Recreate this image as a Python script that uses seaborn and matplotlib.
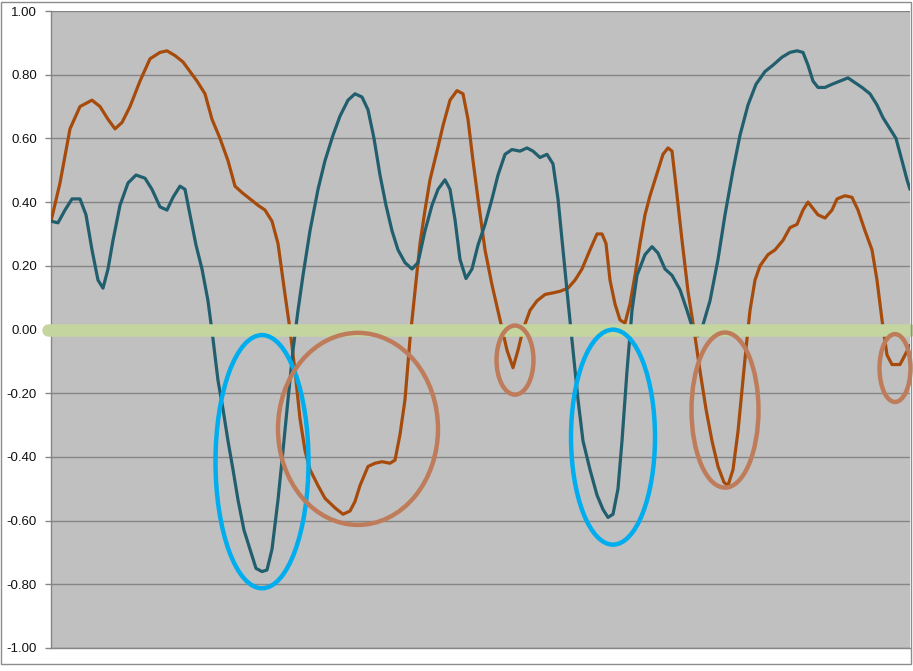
import numpy as np
import seaborn as sns
import matplotlib.pyplot as plt
from matplotlib.patches import Ellipse, Rectangle

# sample position (x) and value (y) for each series
orange_x = [0, 9, 19, 29, 41, 49, 57, 64, 71, 79, 89, 99, 109, 116, 124, 132, 139, 146, 154, 161,
            169, 177, 184, 191, 199, 207, 214, 221, 227, 234, 239, 244, 249, 254, 259, 267, 274, 284,
            292, 299, 304, 309, 317, 324, 331, 339, 344, 349, 354, 359, 364, 369, 374, 379, 386, 392,
            399, 406, 412, 417, 422, 427, 434, 441, 449, 456, 462, 467, 472, 479, 486, 494, 502, 509,
            517, 524, 531, 539, 546, 551, 555, 559, 564, 569, 574, 579, 584, 589, 594, 599, 606, 612,
            617, 621, 625, 631, 637, 643, 649, 655, 661, 667, 673, 677, 682, 687, 691, 695, 699, 704,
            709, 717, 724, 732, 739, 746, 752, 757, 762, 767, 774, 781, 786, 794, 801, 807, 814, 821,
            826, 831, 836, 841, 849, 854, 859]
orange_y = [0.34, 0.46, 0.63, 0.70, 0.72, 0.70, 0.66, 0.63, 0.65, 0.70, 0.78, 0.85, 0.87, 0.875, 0.86,
            0.84, 0.81, 0.78, 0.74, 0.66, 0.60, 0.53, 0.45, 0.43, 0.41, 0.39, 0.375, 0.34, 0.27, 0.11,
            0.0, -0.13, -0.28, -0.38, -0.44, -0.49, -0.53, -0.56, -0.58, -0.57, -0.54, -0.49, -0.43,
            -0.42, -0.415, -0.42, -0.41, -0.33, -0.22, -0.03, 0.12, 0.27, 0.375, 0.47, 0.56, 0.64,
            0.72, 0.75, 0.74, 0.66, 0.53, 0.41, 0.25, 0.14, 0.03, -0.065, -0.12, -0.065, 0.0, 0.06,
            0.09, 0.11, 0.115, 0.12, 0.13, 0.155, 0.19, 0.25, 0.30, 0.30, 0.27, 0.155, 0.08, 0.03,
            0.02, 0.08, 0.17, 0.27, 0.36, 0.42, 0.49, 0.55, 0.57, 0.56, 0.45, 0.28, 0.12, 0.0, -0.13,
            -0.25, -0.35, -0.43, -0.48, -0.49, -0.44, -0.32, -0.19, -0.06, 0.06, 0.155, 0.20, 0.235,
            0.25, 0.28, 0.32, 0.33, 0.375, 0.40, 0.38, 0.36, 0.35, 0.375, 0.41, 0.42, 0.415, 0.375,
            0.31, 0.25, 0.155, 0.03, -0.08, -0.11, -0.11, -0.08, -0.05]

teal_x = [0, 7, 14, 21, 29, 35, 41, 47, 52, 57, 62, 69, 77, 85, 94, 101, 109, 116, 122, 129, 134,
          139, 145, 151, 157, 162, 167, 172, 177, 182, 187, 193, 199, 205, 211, 216, 221, 227, 232,
          237, 242, 247, 252, 259, 267, 274, 282, 289, 297, 304, 311, 317, 323, 329, 335, 341, 347,
          354, 361, 367, 374, 381, 387, 394, 399, 404, 409, 415, 421, 427, 434, 441, 447, 454, 461,
          469, 476, 482, 489, 496, 502, 507, 512, 517, 522, 527, 532, 539, 546, 552, 557, 562, 567,
          571, 576, 581, 586, 594, 601, 607, 614, 621, 629, 636, 642, 647, 652, 659, 667, 674, 682,
          689, 697, 705, 714, 722, 731, 739, 746, 752, 757, 762, 767, 774, 781, 789, 797, 804, 811,
          819, 826, 832, 839, 845, 851, 856, 859]
teal_y = [0.34, 0.335, 0.375, 0.41, 0.41, 0.36, 0.25, 0.155, 0.13, 0.19, 0.28, 0.39, 0.46, 0.485,
          0.475, 0.44, 0.385, 0.375, 0.415, 0.45, 0.44, 0.36, 0.265, 0.19, 0.09, -0.03, -0.16, -0.25,
          -0.35, -0.44, -0.535, -0.63, -0.69, -0.75, -0.76, -0.755, -0.69, -0.535, -0.38, -0.22,
          -0.065, 0.06, 0.17, 0.31, 0.44, 0.53, 0.61, 0.67, 0.72, 0.74, 0.73, 0.69, 0.60, 0.485,
          0.39, 0.31, 0.25, 0.21, 0.19, 0.21, 0.31, 0.39, 0.44, 0.47, 0.44, 0.345, 0.22, 0.16, 0.19,
          0.265, 0.33, 0.41, 0.485, 0.55, 0.565, 0.56, 0.57, 0.56, 0.54, 0.55, 0.52, 0.41, 0.25,
          0.09, -0.065, -0.22, -0.35, -0.44, -0.52, -0.565, -0.59, -0.58, -0.50, -0.35, -0.13, 0.06,
          0.17, 0.235, 0.26, 0.24, 0.19, 0.17, 0.125, 0.06, 0.0, -0.02, 0.015, 0.09, 0.22, 0.36,
          0.50, 0.61, 0.705, 0.77, 0.81, 0.83, 0.855, 0.87, 0.875, 0.87, 0.83, 0.78, 0.76, 0.76,
          0.77, 0.78, 0.79, 0.775, 0.76, 0.74, 0.705, 0.665, 0.63, 0.60, 0.53, 0.47, 0.44]

# highlight ellipses: centre x, centre y, width (samples), height (value)
ell_x = [211, 307, 464, 562, 674, 844]
ell_y = [-0.415, -0.312, -0.096, -0.338, -0.253, -0.121]
ell_w = [93, 160, 37, 84, 67, 31]
ell_h = [0.795, 0.603, 0.217, 0.675, 0.487, 0.213]
ell_c = ['#00AEEF', '#BF7C5B', '#BF7C5B', '#00AEEF', '#BF7C5B', '#BF7C5B']

yticks = np.round(np.arange(-1.0, 1.01, 0.2), 2) + 0.0

sns.set_style('white', {'axes.facecolor': '#C0C0C0'})
plt.rcParams['font.family'] = ['Liberation Sans', 'DejaVu Sans']

fig = plt.figure(figsize=(9.13, 6.71), dpi=100)
ax = fig.add_axes([51 / 913, 1 - 648 / 671, 859 / 913, 637 / 671])

line_kw = dict(linewidth=2.3, solid_joinstyle='round', solid_capstyle='round', ax=ax, zorder=3)
sns.lineplot(x=orange_x, y=orange_y, color='#A64B0C', **line_kw)
sns.lineplot(x=teal_x, y=teal_y, color='#215E6E', **line_kw)

# zero band
ax.axhline(0, color='#C4D5A0', linewidth=9, zorder=4, xmin=-0.004, clip_on=False)

for cx, cy, w, h, c in zip(ell_x, ell_y, ell_w, ell_h, ell_c):
    ax.add_patch(Ellipse((cx, cy), w, h, fill=False, edgecolor=c, linewidth=3.2,
                         zorder=5, clip_on=False))

ax.set_xlim(0, 859)
ax.set_ylim(-1, 1)
ax.set_yticks(yticks)
ax.set_yticklabels([f'{v:.2f}' for v in yticks], fontsize=9.5, color='#111111')
ax.set_xticks([])
ax.yaxis.grid(True, color='#858585', linewidth=1)
ax.set_axisbelow(True)
ax.tick_params(axis='y', direction='out', length=4, width=1, color='#868686', pad=6, left=True)
for side in ['top', 'right']:
    ax.spines[side].set_visible(False)
for side in ['left', 'bottom']:
    ax.spines[side].set_color('#868686')
    ax.spines[side].set_linewidth(1)

# outer chart frame
fig.patches.append(Rectangle((1 / 913, 1 - 664 / 671), 910 / 913, 662 / 671,
                             transform=fig.transFigure, fill=False,
                             edgecolor='#8C8C8C', linewidth=1))

fig.savefig('out.png', dpi=100)
